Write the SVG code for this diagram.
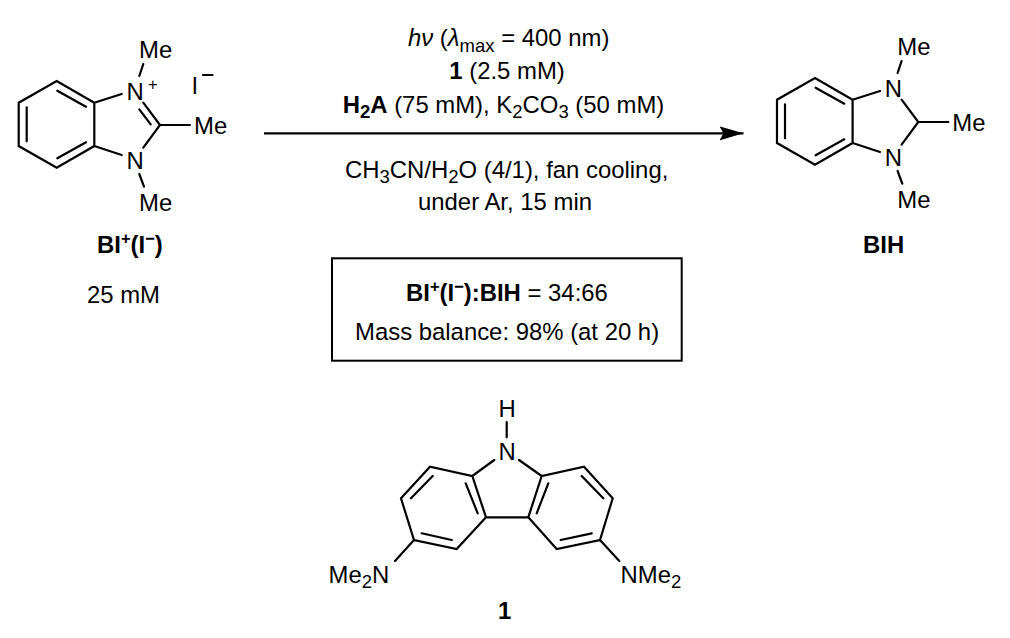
<svg xmlns="http://www.w3.org/2000/svg" width="1010" height="638" viewBox="0 0 1010 638">
<style>
text{font-family:"Liberation Sans",Arial,sans-serif;font-size:23.9px;fill:#000}
.b{font-weight:bold}
.i{font-style:italic}
.s{font-size:16.5px}
.sub{font-size:18.5px}
.bond{stroke:#000;stroke-width:2.2;fill:none;stroke-linecap:round;stroke-linejoin:miter}
</style>
<defs>
<marker id="ah" markerUnits="userSpaceOnUse" markerWidth="26" markerHeight="16" refX="24" refY="8" orient="auto"><path d="M0 1 L24 8 L0 15 L4 8Z" fill="#000"/></marker>
</defs>
<rect width="1010" height="638" fill="#fff"/>
<g id="connectors">
<line x1="264" y1="133.3" x2="743.5" y2="133.3" stroke="#000" stroke-width="2.2" marker-end="url(#ah)"/>
</g>
<g id="bi-cation">
<path class="bond" d="M94.3 102.7L56.7 81L18.7 102.7V146L56.7 167.7L94.3 146ZM57.3 90.7L86 106.7M26.7 107.3V141.3M57.3 158.3L86 142.3M94.3 102.7L121.7 94M139.3 76L143.3 64M143.3 102.7L160 125L143.3 147.7M139.3 109.3L150.7 124.3M160 125H190M94.3 146L121.7 155M139.3 174L144 186.7"/>
<text x="139" y="58">Me</text>
<text x="126.5" y="99.5">N</text>
<text class="s" x="148" y="89.5">+</text>
<text x="191.5" y="93.5">I</text>
<path class="bond" d="M203 75H212.5"/>
<text x="194" y="134">Me</text>
<text x="126.5" y="169">N</text>
<text x="139" y="210.8">Me</text>
<text class="b" x="97" y="252.5">BI<tspan class="s" dy="-9">+</tspan><tspan dy="9">(I</tspan><tspan class="s" dy="-9">−</tspan><tspan dy="9">)</tspan></text>
<text x="87" y="302.5">25 mM</text>
</g>
<g id="bih">
<path class="bond" d="M852.6 99.7L815 78L777 99.7V143L815 164.7L852.6 143ZM815.6 87.7L844.3 103.7M785 104.3V138.3M815.6 155.3L844.3 139.3M852.6 99.7L880 91M897.6 73L901.6 61M901.6 99.7L918.3 122L901.6 144.7M918.3 122H948.3M852.6 143L880 152M897.6 171L902.3 183.7"/>
<text x="897.3" y="55">Me</text>
<text x="884.8" y="96.5">N</text>
<text x="952.3" y="131">Me</text>
<text x="884.8" y="166">N</text>
<text x="897.3" y="207.8">Me</text>
<text class="b" x="863" y="252.5">BIH</text>
</g>
<g id="conditions">
<text x="408" y="45.8"><tspan class="i">hν</tspan> (<tspan class="i">λ</tspan><tspan class="sub" dy="6">max</tspan><tspan dy="-6"> = 400 nm)</tspan></text>
<text x="449.3" y="79"><tspan class="b">1</tspan> (2.5 mM)</text>
<text x="342.7" y="112.5"><tspan class="b">H<tspan class="sub" dy="5">2</tspan><tspan dy="-5">A</tspan></tspan> (75 mM), K<tspan class="sub" dy="5">2</tspan><tspan dy="-5">CO</tspan><tspan class="sub" dy="5">3</tspan><tspan dy="-5"> (50 mM)</tspan></text>
<text x="345" y="177.8">CH<tspan class="sub" dy="5">3</tspan><tspan dy="-5">CN/H</tspan><tspan class="sub" dy="5">2</tspan><tspan dy="-5">O (4/1), fan cooling,</tspan></text>
<text x="418" y="209.8">under Ar, 15 min</text>
</g>
<g id="result-box">
<rect x="332" y="258.3" width="349.7" height="102.4" fill="#fff" stroke="#000" stroke-width="2"/>
<text x="406" y="300.8"><tspan class="b">BI<tspan class="s" dy="-9">+</tspan><tspan dy="9">(I</tspan><tspan class="s" dy="-9">−</tspan><tspan dy="9">):BIH</tspan></tspan> = 34:66</text>
<text x="355" y="340">Mass balance: 98% (at 20 h)</text>
</g>
<g id="carbazole">
<path class="bond" d="M506.7 422V437.3M494.3 460L472.3 476L430 466.7L401 498.3L414 540L456.7 549L486 517.3L472.3 476M432.7 476L411 498.3M421.7 533.3L451.7 540M465.7 483.3L477.7 513.3M519 460L541.7 476L584 466.7L612.7 498.3L600 540L556.7 549L528.3 517.3L541.7 476M581.7 476L603.3 498.3M560.7 540L591.7 533.3M548.3 483.3L536.7 513.3M486 517.3H528.3M414 540L395 561M600 540L619.3 561"/>
<text x="498.5" y="417.3">H</text>
<text x="498.5" y="460">N</text>
<text x="328.5" y="582.5">Me<tspan class="sub" dy="5">2</tspan><tspan dy="-5">N</tspan></text>
<text x="620.5" y="582.5">NMe<tspan class="sub" dy="5">2</tspan></text>
<text class="b" x="498" y="618.5">1</text>
</g>
</svg>
